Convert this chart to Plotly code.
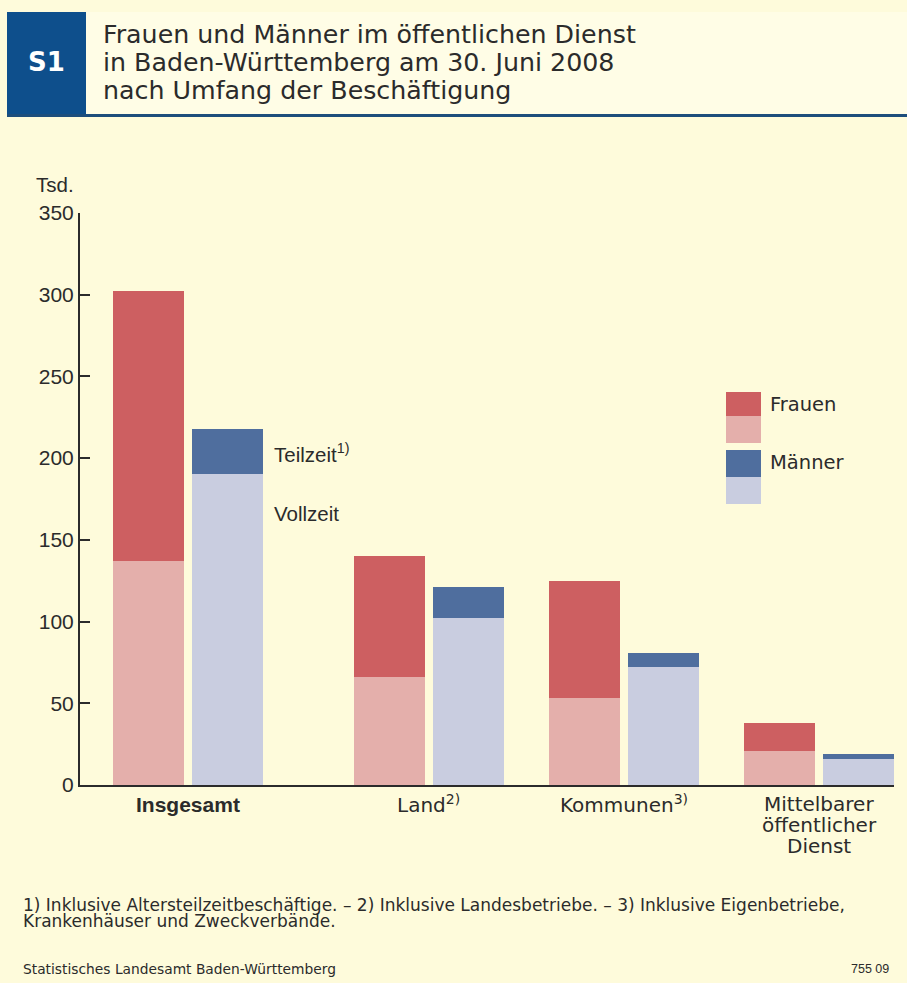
import plotly.graph_objects as go

# Beschäftigte im öffentlichen Dienst, Tsd., 30.06.2008
categories = ["Insgesamt", "Land", "Kommunen", "Mittelbarer öffentlicher Dienst"]
label_lines = [["Insgesamt"], ["Land<sup>2)</sup>"], ["Kommunen<sup>3)</sup>"],
               ["Mittelbarer", "öffentlicher", "Dienst"]]
frauen_vollzeit = [137, 66, 53, 21]
frauen_teilzeit = [165, 74, 72, 17]
maenner_vollzeit = [190, 102, 72, 16]
maenner_teilzeit = [28, 19, 9, 3]
y_ticks = [0, 50, 100, 150, 200, 250, 300, 350]

W, H = 907, 983
BG = "#FEFBDB"
TXT = "#2b2b2b"
ARIAL = "Liberation Sans, Arial, sans-serif"
WIDE = "DejaVu Sans, Verdana, sans-serif"
C_F_DARK, C_F_LIGHT = "#CD5F61", "#E4AFAB"
C_M_DARK, C_M_LIGHT = "#4F6E9E", "#C9CDE0"

# group centres on a pixel-like x scale, bar width and pair offset
group_x = [108, 348.5, 543.5, 739]
bar_w = 71
off = 39.5
x_f = [g - off for g in group_x]
x_m = [g + off for g in group_x]

# page geometry: the figure is drawn into a band starting TOP px down, SPAN px tall
TOP, SPAN = 11, 960


def px(x):
    return x / W


def py(y):
    return 1 - (y - TOP) / SPAN


fig = go.Figure()
fig.add_bar(x=x_f, y=frauen_vollzeit, width=bar_w, marker_color=C_F_LIGHT,
            marker_line_width=0, name="Frauen Vollzeit")
fig.add_bar(x=x_f, y=frauen_teilzeit, width=bar_w, marker_color=C_F_DARK,
            marker_line_width=0, name="Frauen Teilzeit")
fig.add_bar(x=x_m, y=maenner_vollzeit, width=bar_w, marker_color=C_M_LIGHT,
            marker_line_width=0, name="Männer Vollzeit")
fig.add_bar(x=x_m, y=maenner_teilzeit, width=bar_w, marker_color=C_M_DARK,
            marker_line_width=0, name="Männer Teilzeit")


def rect(x0, x1, y0, y1, color, layer="above"):
    return dict(type="rect", xref="paper", yref="paper", x0=px(x0), x1=px(x1),
                y0=py(y1), y1=py(y0), fillcolor=color, line_width=0, layer=layer)


shapes = [
    rect(86, W, TOP, 113, "#FFFDE6", layer="below"),   # header band
    rect(7, 86, TOP, 115, "#0E4F8C"),                   # blue badge
    rect(7, W, 113, 116, "#1D4E7C"),                    # header rule
    # legend swatches
    rect(726, 761, 391, 415, C_F_DARK),
    rect(726, 761, 415, 442, C_F_LIGHT),
    rect(726, 761, 449, 476, C_M_DARK),
    rect(726, 761, 476, 503, C_M_LIGHT),
]


def note(text, x, y, size, family=WIDE, xanchor="left", bold=False, xref="paper"):
    f = dict(family=family, size=size, color=TXT)
    if bold:
        f["weight"] = "bold"
    return dict(text=text, xref=xref, yref="paper", x=px(x) if xref == "paper" else x,
                y=py(y), showarrow=False, font=f, xanchor=xanchor, yanchor="middle")


title_lines = ["Frauen und Männer im öffentlichen Dienst",
               "in Baden-Württemberg am 30. Juni 2008",
               "nach Umfang der Beschäftigung"]
annotations = [
    dict(text="S1", xref="paper", yref="paper", x=px(46), y=py(61), showarrow=False,
         font=dict(family=WIDE, size=26, color="white", weight="bold"),
         xanchor="center", yanchor="middle"),
]
for i, line in enumerate(title_lines):
    annotations.append(note(line, 101, 33 + 28.5 * i, 25.3))

annotations += [
    note("Tsd.", 34, 183, 20.5, family=ARIAL),
    note("Frauen", 768, 403, 19.5),
    note("Männer", 768, 462, 19.5),
    note("1) Inklusive Altersteilzeitbeschäftige. – 2) Inklusive Landesbetriebe. – "
         "3) Inklusive Eigenbetriebe,", 21, 904, 17),
    note("Krankenhäuser und Zweckverbände.", 21, 920, 17),
    note("Statistisches Landesamt Baden-Württemberg", 21, 968, 13.8),
    note("755 09", 891, 968, 12.5, family=ARIAL, xanchor="right"),
]

# category labels under the groups
for gx, lines in zip(group_x, label_lines):
    for j, line in enumerate(lines):
        if line == "Insgesamt":
            annotations.append(note(line, gx, 803, 21, family=ARIAL, xanchor="center",
                                    bold=True, xref="x"))
        else:
            annotations.append(note(line, gx, 803 + 21 * j, 20, xanchor="center", xref="x"))

# part-time / full-time markers next to the total men's bar
annotations += [
    dict(text="Teilzeit<sup>1)</sup>", x=192, y=203, xref="x", yref="y", showarrow=False,
         font=dict(family=ARIAL, size=20.5, color=TXT), xanchor="left", yanchor="middle"),
    dict(text="Vollzeit", x=192, y=166, xref="x", yref="y", showarrow=False,
         font=dict(family=ARIAL, size=20.5, color=TXT), xanchor="left", yanchor="middle"),
]

fig.update_layout(
    width=W, height=H, margin=dict(l=0, r=0, t=0, b=0),
    paper_bgcolor=BG, plot_bgcolor=BG, barmode="stack", bargap=0,
    showlegend=False, shapes=shapes, annotations=annotations,
    font=dict(family=ARIAL, color=TXT),
    xaxis=dict(domain=[px(80), px(894)], range=[0, 814], showgrid=False, zeroline=False,
               showline=True, linecolor="#2b2b2b", linewidth=2,
               showticklabels=False, ticks=""),
    yaxis=dict(domain=[py(784), py(212)], range=[0, 350], showgrid=False, zeroline=False,
               showline=True, linecolor="#2b2b2b", linewidth=2,
               tickmode="array", tickvals=y_ticks, ticks="inside", ticklen=10,
               tickwidth=2, tickcolor="#2b2b2b",
               tickfont=dict(family=ARIAL, size=21, color=TXT)),
)

fig.write_html(
    "out.html",
    post_script="document.body.style.margin='0';"
                "document.body.style.background='linear-gradient(#FFFFF6 0 50%, #FEFBDB 50% 100%)';",
)
